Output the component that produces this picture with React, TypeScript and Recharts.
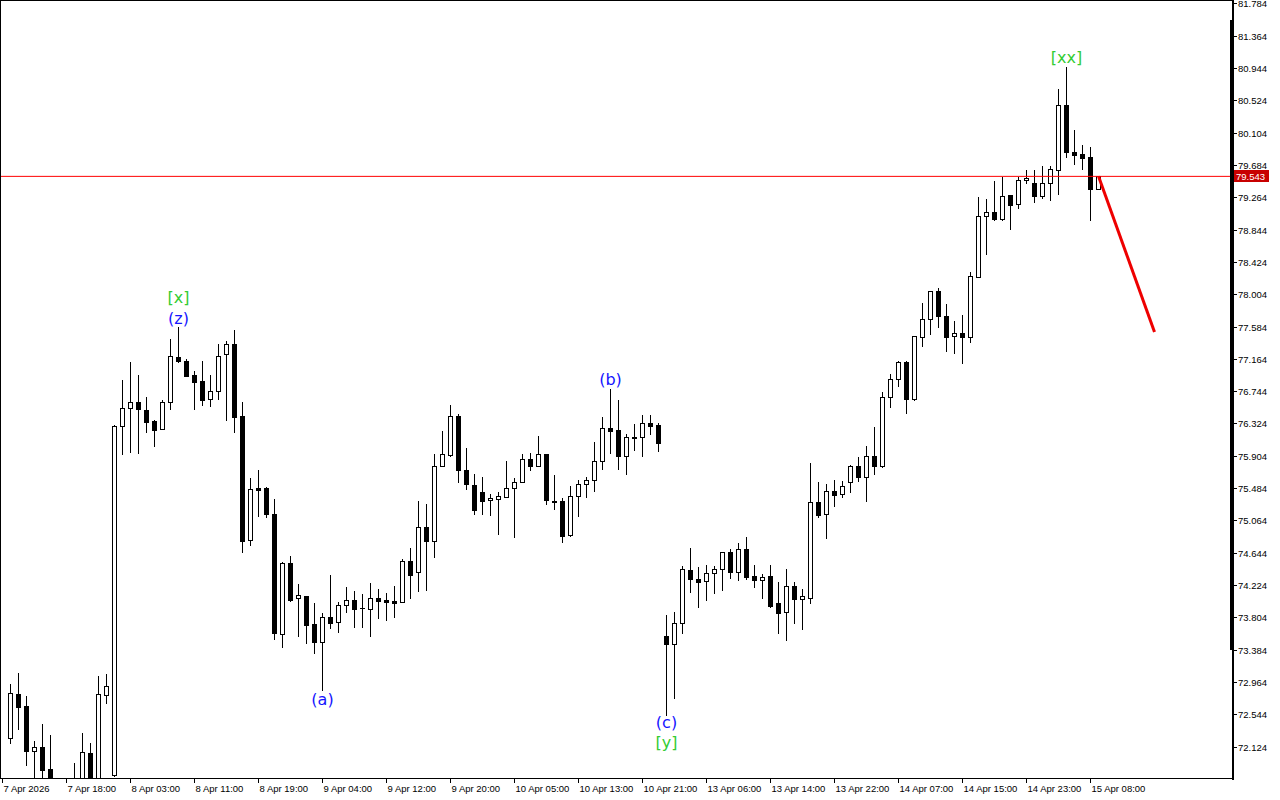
import { Bar, ComposedChart, Line, ReferenceLine, Scatter, XAxis, YAxis } from "recharts";

// H1 candles, 7 Apr 2026 -> 15 Apr 2026
const opens = [
  72.238, 72.814, 72.662, 72.077, 72.125, 71.839, 71.6, 71.45, 71.58, 71.62, 72.051, 71.65, 72.797, 71.757,
  76.294, 76.528, 76.606, 76.506, 76.363, 76.255, 76.606, 77.191, 77.143, 76.961, 76.883, 76.645, 76.749, 77.23,
  77.364, 76.428, 74.812, 75.492, 75.492, 75.154, 73.594, 74.513, 74.058, 74.088, 73.724, 73.494, 73.815, 73.744,
  73.967, 74.032, 73.936, 73.923, 74.058, 74.036, 74.027, 74.006, 74.539, 74.396, 74.981, 74.807, 75.774, 75.925,
  76.424, 75.722, 75.531, 75.44, 75.332, 75.353, 75.379, 75.488, 75.566, 75.865, 75.774, 75.934, 75.323, 75.323,
  74.875, 75.384, 75.54, 75.592, 75.839, 76.272, 76.242, 75.904, 76.155, 76.151, 76.333, 76.307, 73.568, 73.46,
  73.733, 74.422, 74.309, 74.279, 74.391, 74.435, 74.656, 74.404, 74.695, 74.348, 74.3, 74.344, 73.997, 73.876,
  74.214, 74.053, 74.058, 75.306, 75.15, 75.449, 75.41, 75.574, 75.774, 75.639, 75.904, 75.778, 76.671, 76.905,
  77.126, 76.653, 77.451, 77.685, 78.049, 77.728, 77.464, 77.503, 77.451, 78.239, 79.024, 79.076, 78.993, 79.301,
  79.18, 79.492, 79.453, 79.284, 79.453, 79.626, 80.467, 79.856, 79.834, 79.795, 79.383,
];
const highs = [
  72.944, 73.091, 72.792, 72.203, 72.428, 72.285, 71.68, 71.66, 71.913, 72.303, 72.181, 73.052, 73.074, 76.311,
  76.896, 77.13, 76.957, 76.671, 76.376, 76.636, 77.425, 77.581, 77.165, 77.013, 77.143, 76.957, 77.36, 77.403,
  77.546, 76.606, 75.618, 75.726, 75.505, 75.349, 74.53, 74.608, 74.244, 74.088, 73.993, 73.871, 74.361, 74.014,
  74.205, 74.149, 74.114, 74.261, 74.175, 74.131, 74.218, 74.565, 74.712, 75.323, 75.284, 75.93, 76.229, 76.571,
  76.454, 76.008, 75.674, 75.635, 75.414, 75.44, 75.843, 75.618, 75.934, 75.947, 76.168, 75.934, 75.661, 75.366,
  75.518, 75.596, 75.631, 76.094, 76.415, 76.779, 76.636, 76.19, 76.324, 76.441, 76.437, 76.341, 73.841, 73.88,
  74.478, 74.712, 74.469, 74.491, 74.482, 74.656, 74.699, 74.773, 74.855, 74.495, 74.374, 74.491, 74.266, 74.435,
  74.27, 74.175, 75.813, 75.566, 75.544, 75.592, 75.583, 75.787, 75.895, 76.038, 76.285, 76.74, 76.974, 77.143,
  77.139, 77.472, 77.893, 78.053, 78.088, 77.88, 77.663, 77.737, 78.3, 79.275, 79.249, 79.483, 79.539, 79.301,
  79.539, 79.626, 79.626, 79.678, 79.678, 80.679, 80.965, 80.146, 79.947, 79.921, 79.544,
];
const lows = [
  72.181, 72.363, 71.891, 71.6, 71.65, 71.5, 71.35, 71.3, 71.4, 71.55, 71.55, 71.6, 72.701, 71.748,
  75.93, 75.964, 75.951, 76.224, 76.042, 76.255, 76.515, 77.126, 76.944, 76.515, 76.575, 76.562, 76.645, 76.372,
  76.224, 74.664, 74.751, 75.132, 75.111, 73.533, 73.429, 74.027, 73.572, 73.473, 73.351, 72.866, 73.676, 73.624,
  73.884, 73.689, 73.685, 73.572, 73.806, 73.776, 73.819, 74.006, 74.066, 74.157, 74.166, 74.591, 75.774, 75.912,
  75.574, 75.483, 75.158, 75.15, 75.145, 74.898, 75.371, 74.859, 75.566, 75.73, 75.774, 75.288, 75.215, 74.786,
  74.872, 75.132, 75.379, 75.449, 75.735, 75.951, 75.743, 75.678, 75.986, 75.912, 76.194, 75.969, 72.541, 72.766,
  73.611, 74.144, 73.949, 74.04, 74.131, 74.166, 74.326, 74.296, 74.309, 74.201, 74.062, 73.941, 73.607, 73.52,
  73.741, 73.663, 74.0, 75.119, 74.846, 75.262, 75.379, 75.44, 75.587, 75.327, 75.674, 75.765, 76.549, 76.822,
  76.461, 76.636, 77.342, 77.498, 77.581, 77.277, 77.251, 77.113, 77.394, 78.239, 78.538, 78.976, 78.98, 78.863,
  79.136, 79.453, 79.214, 79.266, 79.24, 79.31, 79.791, 79.708, 79.643, 78.972, 79.383,
];
const closes = [
  72.823, 72.649, 72.077, 72.121, 71.826, 71.6, 71.45, 71.55, 71.62, 72.06, 71.65, 72.814, 72.918, 76.298,
  76.528, 76.606, 76.515, 76.346, 76.242, 76.606, 77.204, 77.147, 76.952, 76.874, 76.64, 76.749, 77.204, 77.36,
  76.419, 74.807, 75.475, 75.466, 75.15, 73.603, 74.513, 74.036, 74.097, 73.715, 73.494, 73.815, 73.741, 73.967,
  74.032, 73.923, 73.928, 74.058, 74.027, 74.014, 74.001, 74.539, 74.365, 74.981, 74.807, 75.774, 75.93, 76.424,
  75.722, 75.54, 75.21, 75.319, 75.358, 75.384, 75.488, 75.57, 75.865, 75.774, 75.934, 75.332, 75.306, 74.872,
  75.384, 75.54, 75.592, 75.843, 76.268, 76.237, 75.912, 76.151, 76.138, 76.333, 76.298, 76.081, 73.46, 73.733,
  74.435, 74.305, 74.274, 74.383, 74.435, 74.656, 74.404, 74.695, 74.339, 74.296, 74.335, 73.962, 73.871, 74.214,
  74.053, 74.088, 75.306, 75.141, 75.449, 75.405, 75.514, 75.774, 75.639, 75.904, 75.782, 76.671, 76.905, 77.126,
  76.653, 77.464, 77.685, 78.049, 77.724, 77.459, 77.503, 77.451, 78.244, 79.024, 79.076, 78.989, 79.288, 79.175,
  79.496, 79.518, 79.284, 79.453, 79.639, 80.467, 79.856, 79.825, 79.786, 79.383, 79.543,
];

const timeLabels = [
  "7 Apr 2026", "7 Apr 18:00", "8 Apr 03:00", "8 Apr 11:00", "8 Apr 19:00", "9 Apr 04:00",
  "9 Apr 12:00", "9 Apr 20:00", "10 Apr 05:00", "10 Apr 13:00", "10 Apr 21:00", "13 Apr 06:00",
  "13 Apr 14:00", "13 Apr 22:00", "14 Apr 07:00", "14 Apr 15:00", "14 Apr 23:00", "15 Apr 08:00",
];
const priceTicks = [
  81.784, 81.364, 80.944, 80.524, 80.104, 79.684, 79.264, 78.844, 78.424, 78.004, 77.584, 77.164,
  76.744, 76.324, 75.904, 75.484, 75.064, 74.644, 74.224, 73.804, 73.384, 72.964, 72.544, 72.124,
];
const lastPrice = 79.543;
const projection = [
  { i: 136, p: 79.543 },
  { i: 143, p: 77.52 },
];
const waveLabels = [
  { i: 21, p: 77.949, text: "[x]", degree: "major" },
  { i: 21, p: 77.68, text: "(z)", degree: "minor" },
  { i: 39, p: 72.723, text: "(a)", degree: "minor" },
  { i: 75, p: 76.889, text: "(b)", degree: "minor" },
  { i: 82, p: 72.428, text: "(c)", degree: "minor" },
  { i: 82, p: 72.164, text: "[y]", degree: "major" },
  { i: 132, p: 81.069, text: "[xx]", degree: "major" },
];

const candles = opens.map((o, i) => ({
  i,
  o,
  h: highs[i],
  l: lows[i],
  c: closes[i],
  range: [lows[i], highs[i]],
}));

// one label every 8 bars, first one sits on the bar before the data
const tickIdx = timeLabels.map((_, k) => -1 + 8 * k);

const W = 1280;
const H = 800;
const AXIS_FONT = "'Liberation Sans', Arial, sans-serif";

function Candle(props: any) {
  const { x, y, width, height, payload } = props;
  if (!payload || height == null) return null;
  const top = Math.min(y, y + height);
  const bot = Math.max(y, y + height);
  const span = payload.h - payload.l || 1;
  const toY = (v: number) => top + ((payload.h - v) / span) * (bot - top);
  const cx = Math.floor(x + width / 2) + 0.5;
  const yo = Math.round(toY(payload.o));
  const yc = Math.round(toY(payload.c));
  const bTop = Math.min(yo, yc);
  const bBot = Math.max(yo, yc);
  const up = payload.c >= payload.o;
  return (
    <g shapeRendering="crispEdges">
      <line x1={cx} x2={cx} y1={Math.round(top)} y2={Math.round(bot) + 1} stroke="#000" />
      {bBot - bTop < 1 ? (
        <line x1={cx - 2.5} x2={cx + 2.5} y1={bTop + 0.5} y2={bTop + 0.5} stroke="#000" />
      ) : (
        <rect x={cx - 2} y={bTop + 0.5} width={4} height={bBot - bTop} fill={up ? "#fff" : "#000"} stroke="#000" />
      )}
    </g>
  );
}

function TimeTick(props: any) {
  const { x, y, payload } = props;
  const k = tickIdx.indexOf(payload.value);
  const px = Math.floor(x) + 0.5;
  return (
    <g>
      <line x1={px} x2={px} y1={y} y2={y + 4} stroke="#000" shapeRendering="crispEdges" />
      <text x={px + 1} y={y + 13} fontSize={9.5} fontFamily={AXIS_FONT} fill="#000">
        {timeLabels[k]}
      </text>
    </g>
  );
}

function PriceTick(props: any) {
  const { x, y, payload } = props;
  const py = Math.floor(y) + 0.5;
  return (
    <g>
      <line x1={x + 2} x2={x + 5} y1={py} y2={py} stroke="#000" shapeRendering="crispEdges" />
      <text x={x + 6} y={py + 3.5} fontSize={9.5} fontFamily={AXIS_FONT} fill="#000">
        {payload.value.toFixed(3)}
      </text>
    </g>
  );
}

function LastPriceTag(props: any) {
  const vb = props.viewBox;
  if (!vb) return null;
  const yy = Math.floor(vb.y);
  const x0 = vb.x + vb.width + 2;
  return (
    <g>
      <rect x={x0} y={yy - 6} width={35} height={12} fill="#c80000" />
      <text x={x0 + 2} y={yy + 3.5} fontSize={9.5} fontFamily={AXIS_FONT} fill="#fff">
        {lastPrice.toFixed(3)}
      </text>
    </g>
  );
}

function WaveLabel(props: any) {
  const { cx, cy, payload } = props;
  if (cx == null || cy == null) return null;
  return (
    <text
      x={cx}
      y={cy}
      dy="0.27em"
      textAnchor="middle"
      fontSize={16}
      fontFamily="'DejaVu Sans', sans-serif"
      fill={payload.degree === "major" ? "#33cc33" : "#1515ff"}
    >
      {payload.text}
    </text>
  );
}

export default function App() {
  return (
    <div style={{ position: "absolute", left: 0, top: 0, width: W, height: H, background: "#fff" }}>
      <ComposedChart width={W} height={H} data={candles} margin={{ top: 0, right: 0, bottom: 0, left: 0 }}>
        <XAxis
          dataKey="i"
          type="number"
          domain={[-1.3125, 152.6875]}
          allowDataOverflow
          ticks={tickIdx}
          interval={0}
          height={21}
          axisLine={false}
          tickLine={false}
          tickSize={0}
          tickMargin={0}
          tick={<TimeTick />}
        />
        <YAxis
          orientation="right"
          type="number"
          domain={[71.708, 81.836]}
          allowDataOverflow
          ticks={priceTicks}
          interval={0}
          width={48}
          axisLine={false}
          tickLine={false}
          tickSize={0}
          tickMargin={0}
          tick={<PriceTick />}
        />
        <ReferenceLine y={lastPrice} stroke="#ff0000" strokeWidth={1} label={<LastPriceTag />} />
        <Bar dataKey="range" barSize={7} shape={<Candle />} isAnimationActive={false} />
        <Line
          data={projection}
          dataKey="p"
          stroke="#ee0000"
          strokeWidth={3}
          dot={false}
          activeDot={false}
          isAnimationActive={false}
        />
        <Scatter data={waveLabels} dataKey="p" shape={<WaveLabel />} isAnimationActive={false} />
      </ComposedChart>
      {/* chart frame */}
      <div style={{ position: "absolute", left: 0, top: 0, width: 1232, height: 779, borderLeft: "1px solid #000", borderTop: "1px solid #000", borderBottom: "1px solid #000", boxSizing: "border-box", pointerEvents: "none" }} />
      <div style={{ position: "absolute", left: 1232, top: 0, width: 2, height: 780, background: "#000" }} />
      <div style={{ position: "absolute", left: 1230, top: 20, width: 2, height: 630, background: "#000" }} />
    </div>
  );
}
